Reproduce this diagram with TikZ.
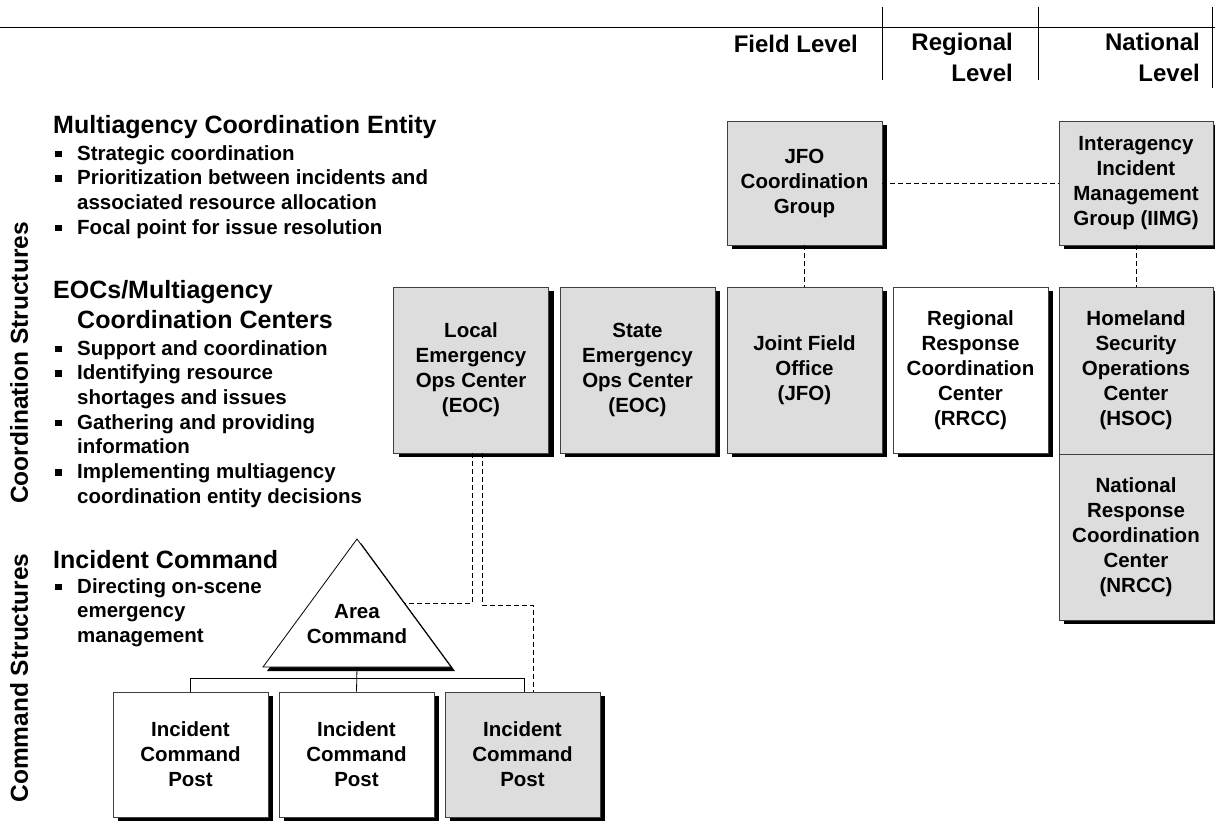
\documentclass[tikz,border=0pt]{standalone}
\usepackage{fontspec}
\setmainfont{Liberation Sans}
\usetikzlibrary{shadows,positioning}
\definecolor{boxgray}{HTML}{DDDDDD}
\definecolor{edgegray}{HTML}{404040}
\newcommand\boxfont{\fontsize{20.5}{25}\selectfont\bfseries}
\newcommand\bodyfont{\fontsize{20.5}{24.7}\selectfont\bfseries}
\newcommand\headfont{\fontsize{25}{30}\selectfont\bfseries}
\newcommand\lvlfont{\fontsize{24}{31}\selectfont\bfseries}
\newcommand\blt{\makebox[24pt][l]{\hspace{2pt}\rule[3pt]{6.5pt}{6.5pt}}}
\newcommand\ind{\hspace*{24pt}}
\tikzset{org/.style={rectangle,draw=edgegray,line width=0.8pt,fill=boxgray,minimum width=155pt,minimum height=166pt,inner sep=2pt,align=center,font=\boxfont,drop shadow={shadow xshift=5pt,shadow yshift=-4pt,fill=black,opacity=1}}}
\tikzset{orgw/.style={org,fill=white}}
\tikzset{txt/.style={inner sep=0pt,align=left,anchor=north west}}
\tikzset{dsh/.style={line width=0.9pt,dash pattern=on 5pt off 3pt}}
\tikzset{tree/.style={line width=0.8pt}}

\begin{document}
\begin{tikzpicture}[x=1pt,y=-1pt]
    \useasboundingbox (0,0) rectangle (1215,821);

    \draw [tree] (0,27) -- (1215,27);
    \draw [tree] (882,7) -- (882,80);
    \draw [tree] (1038,7) -- (1038,80);
    \draw [tree] (1212,7) -- (1212,88);
    \node[inner sep=0pt,anchor=north east,font=\lvlfont] (lvlf) at (858,35) {Field Level};
    \node[inner sep=0pt,anchor=north east,align=right,font=\lvlfont] (lvlr) at (1013,33) {Regional\\Level};
    \node[inner sep=0pt,anchor=north east,align=right,font=\lvlfont] (lvln) at (1200,33) {National\\Level};

    \node[inner sep=0pt,rotate=90,font=\fontsize{24.5}{29}\selectfont\bfseries] (vcoord) at (19,363) {Coordination Structures};
    \node[inner sep=0pt,rotate=90,font=\fontsize{24.5}{29}\selectfont\bfseries] (vcmd) at (19,678) {Command Structures};

    \node[txt,font=\headfont] (hmac) at (53,115) {Multiagency Coordination Entity};
    \node[txt,font=\bodyfont] (lmac) at (53,145) {\blt Strategic coordination\\
        \blt Prioritization between incidents and\\
        \ind associated resource allocation\\
        \blt Focal point for issue resolution};
    \node[txt,font=\headfont] (heoc) at (53,280) {EOCs/Multiagency\\\ind Coordination Centers};
    \node[txt,font=\bodyfont] (leoc) at (53,340) {\blt Support and coordination\\
        \blt Identifying resource\\
        \ind shortages and issues\\
        \blt Gathering and providing\\
        \ind information\\
        \blt Implementing multiagency\\
        \ind coordination entity decisions};
    \node[txt,font=\headfont] (hic) at (53,550) {Incident Command};
    \node[txt,font=\bodyfont] (lic) at (53,578) {\blt Directing on-scene\\
        \ind emergency\\
        \ind management};

    \node[org] (loc) at (471,370) {Local\\Emergency\\Ops Center\\(EOC)};
    \node[org] (ste) at (637.5,370) {State\\Emergency\\Ops Center\\(EOC)};
    \node[org] (jfo) at (804.5,370) {Joint Field\\Office\\(JFO)};
    \node[orgw] (rrcc) at (970.5,370) {Regional\\Response\\Coordination\\Center\\(RRCC)};
    \node[org,minimum width=154pt,minimum height=167pt] (hsoc) at (1136,370.5) {Homeland\\Security\\Operations\\Center\\(HSOC)};
    \node[org,minimum width=154pt] (nrcc) at (1136,537) {National\\Response\\Coordination\\Center\\(NRCC)};
    \node[org,minimum height=124pt] (jfocg) at (804.5,183) {JFO\\Coordination\\Group};
    \node[org,minimum width=154pt,minimum height=124pt] (iimg) at (1136,183) {Interagency\\Incident\\Management\\Group (IIMG)};
    \node[orgw,minimum height=125pt] (icpa) at (190.5,754.5) {Incident\\Command\\Post};
    \node[orgw,minimum height=125pt] (icpb) at (356.5,754.5) {Incident\\Command\\Post};
    \node[org,minimum height=125pt] (icpc) at (522.5,754.5) {Incident\\Command\\Post};

    \coordinate (tapex) at (357,539);
    \coordinate (tbl) at (263,667);
    \coordinate (tbr) at (451,667);
    \coordinate (tbase) at (357,667);
    \coordinate (tside) at (404,603);
    \coordinate (jog) at (533,605);
    \fill [black] ([shift={(4,4)}]tapex) -- ([shift={(4,4)}]tbl) -- ([shift={(4,4)}]tbr) -- cycle;
    \draw [tree,fill=white] (tapex) -- (tbl) -- (tbr) -- cycle;
    \node[inner sep=0pt,align=center,font=\boxfont] (area) at (357,624) {Area\\Command};

    \draw [tree] (tbase) to [] (icpb.north);
    \draw [tree] (icpa.north) -- ++(0,-13) -| ([xshift=1.5pt]icpc.north);
    \draw [dsh] ([xshift=1pt]loc.south) |- (tside);
    \draw [dsh] ([xshift=11pt]loc.south) |- (jog) -- (jog |- icpc.north);
    \draw [dsh] (jfocg) to [] (jfo);
    \draw [dsh] (jfocg) to [] (iimg);
    \draw [dsh] (iimg) to [] (hsoc);
\end{tikzpicture}
\end{document}
